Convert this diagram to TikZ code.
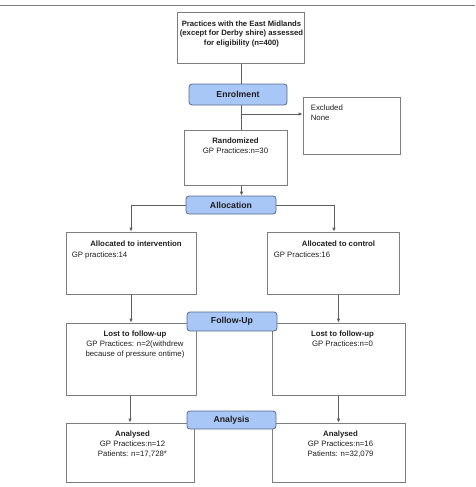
\documentclass[tikz,border=0pt]{standalone}
\usepackage{fontspec}
\setmainfont{Liberation Sans}
\usetikzlibrary{positioning}
\usetikzlibrary{backgrounds}
\usetikzlibrary{arrows.meta}
\definecolor{stagefill}{RGB}{168,198,246}
\definecolor{stageline}{RGB}{88,104,140}
\definecolor{boxgray}{RGB}{125,125,125}
\definecolor{linegray}{RGB}{95,95,95}
\definecolor{inkgray}{RGB}{30,30,30}

\begin{document}
\begin{tikzpicture}[x=1pt, y=-1pt, >={Latex[length=4pt,width=3.6pt]},
  every node/.style={font=\fontsize{7.8}{9.8}\selectfont, text=inkgray},
  box/.style={draw=boxgray, line width=0.8pt, rectangle, inner sep=0pt},
  stage/.style={draw=stageline, fill=stagefill, rounded corners=3pt, line width=0.8pt, inner sep=0pt, font=\fontsize{8.7}{10}\selectfont\bfseries},
  txt/.style={inner sep=0pt, align=center},
  link/.style={draw=linegray, line width=0.8pt}]
\useasboundingbox (0,0) rectangle (475,487);
\draw[boxgray, line width=0.8pt] (0,5) -- (475,5);

% boxes
\node[box, minimum width=127pt, minimum height=51pt] (start) at (240.5,37.5) {};
\node[box, minimum width=97pt, minimum height=57pt] (excl) at (351.5,125.5) {};
\node[box, minimum width=103pt, minimum height=55pt] (rand) at (235.5,157.5) {};
\node[box, minimum width=130pt, minimum height=62pt] (intv) at (131,263) {};
\node[box, minimum width=132pt, minimum height=62pt] (ctrl) at (333,263) {};
\node[box, minimum width=130pt, minimum height=72pt] (lostL) at (131,359) {};
\node[box, minimum width=133pt, minimum height=72pt] (lostR) at (338.5,359) {};
\node[box, minimum width=128pt, minimum height=59pt] (analL) at (130,452.5) {};
\node[box, minimum width=133pt, minimum height=59pt] (analR) at (338.5,452.5) {};

% texts
\node[txt, font=\fontsize{7.7}{9.6}\selectfont\bfseries] (startT) [below=9pt of start.north, xshift=1pt] {Practices with the East Midlands\\(except for Derby shire) assessed\\for eligibility (n=400)};
\node[txt, align=left] (exclT) [below right=8pt and 8pt of excl.north west] {Excluded\\None};
\node[txt] (randT) [below=8pt of rand.north] {\textbf{Randomized}\\GP Practices:n=30};
\node[txt, font=\fontsize{7.8}{9.8}\selectfont\bfseries] (intvT) [below=9pt of intv.north, xshift=5pt] {Allocated to intervention};
\node[txt] (intvD) [below right=20pt and 6pt of intv.north west] {GP practices:14};
\node[txt, font=\fontsize{7.8}{9.8}\selectfont\bfseries] (ctrlT) [below=9pt of ctrl.north, xshift=5.5pt] {Allocated to control};
\node[txt] (ctrlD) [below right=20pt and 7pt of ctrl.north west] {GP Practices:16};
\node[txt] (lostLT) [below=8pt of lostL.north, xshift=4pt] {\textbf{Lost to follow-up}\\GP Practices: n=2(withdrew\\because of pressure ontime)};
\node[txt] (lostRT) [below=8pt of lostR.north, xshift=4pt] {\textbf{Lost to follow-up}\\GP Practices:n=0};
\node[txt] (analLT) [below=8pt of analL.north, xshift=2.5pt] {\textbf{Analysed}\\GP Practices:n=12\\Patients: n=17,728*};
\node[txt] (analRT) [below=8pt of analR.north, xshift=2pt] {\textbf{Analysed}\\GP Practices:n=16\\Patients: n=32,079};

% stages
\node[stage, minimum width=98pt, minimum height=21pt] (enrol) at (238,94.5) {Enrolment};
\node[stage, minimum width=90pt, minimum height=18pt] (alloc) at (231,205) {Allocation};
\node[stage, minimum width=90pt, minimum height=19pt] (follow) at (232,321.5) {Follow-Up};
\node[stage, minimum width=89pt, minimum height=18pt] (anal) at (231.5,420) {Analysis};

\coordinate (trunk) at (241.5,114);

\begin{scope}[on background layer]
\draw[link] (start.south -| trunk) -- (rand.north -| trunk);
\draw[link, ->] (trunk) -- (trunk -| excl.west);
\draw[link, ->] (rand.south -| trunk) -- (alloc.north -| trunk);
\draw[link, ->] (alloc.west) -| (intv.north);
\draw[link, ->] (alloc.east) -| ([xshift=1pt]ctrl.north);
\draw[link, ->] (intv.south) -- (lostL.north);
\draw[link, ->] (ctrl.south -| lostR.north) -- (lostR.north);
\draw[link, ->] ([xshift=-1pt]lostL.south) -- ([xshift=-1pt]analL.north -| lostL.south);
\draw[link, ->] (lostR.south) -- (analR.north);
\end{scope}
\end{tikzpicture}
\end{document}
